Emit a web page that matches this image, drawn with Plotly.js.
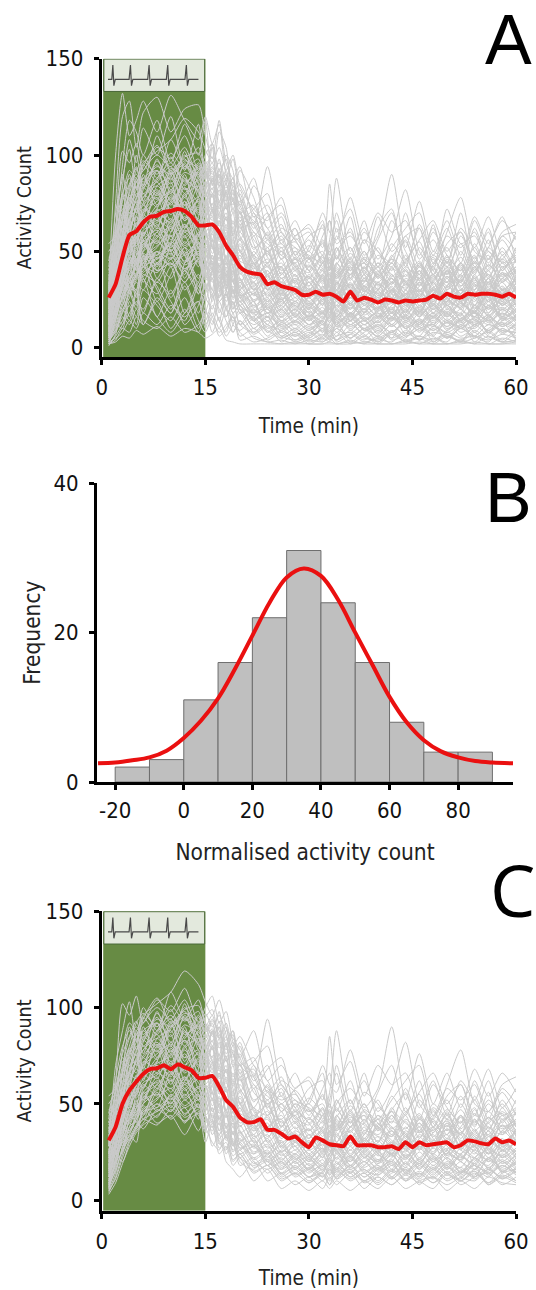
<!DOCTYPE html>
<html><head><meta charset="utf-8">
<script src="https://cdn.plot.ly/plotly-3.0.1.min.js"></script>
<style>html,body{margin:0;padding:0;background:#fff}</style></head>
<body><div id="chart" style="width:536px;height:1290px"></div>
<script>
const minutes = [1,2,3,4,5,6,7,8,9,10,11,12,13,14,15,16,17,18,19,20,21,22,23,24,25,26,27,28,29,30,31,32,33,34,35,36,37,38,39,40,41,42,43,44,45,46,47,48,49,50,51,52,53,54,55,56,57,58,59,60];
const meanA = [26,33,47,58.5,60.5,65,68,68.5,70.5,71,72,71,68,63.5,63.5,64,60,53,48,42,39.5,38.5,38,33,34,32,31,30,27.5,27.5,29,27.5,28,26.5,24,29,24.5,26,25,23.5,25,24.5,23.5,24.5,24,24.5,25,27,25.5,28,26.5,26,28,27.5,28,28,27.5,26.5,28,26];
const meanC = [31,38,50,57,61.5,65.5,68,68.5,70,68,70.5,69,67.5,63.5,63.5,64.5,59,52,48.5,43,40.5,40.5,42,36.5,36.5,34.5,32,33,30,27.5,32.5,31,29,28.5,28,33,28.5,28.5,28.5,27.5,27.5,28,26.5,30,27.5,30,28.5,29,29.5,30,27.5,28.5,31,30.5,29.5,29,32,30,31,29];
const runTimes = [1,2,3,4,5,6,8,10,12,14,15,16,17,18,19,20,22,24,26,28,30,32,33,34,36,38,40,42,44,46,48,50,52,54,56,58,60];
const sharedRuns = [
[22,48,78,92,88,96,102,108,119,112,103,96,104,90,76,70,64,94,60,52,48,44,56,88,50,62,46,58,82,50,42,60,78,50,46,60,64],
[18,60,102,96,106,92,104,98,110,92,100,106,92,98,82,74,88,62,70,58,64,52,85,60,72,48,58,90,52,76,50,66,48,68,54,66,56],
[30,70,88,103,82,100,88,108,94,104,92,86,98,80,88,66,72,80,54,66,50,70,60,56,78,54,70,60,66,48,62,44,62,52,68,48,58],
[12,34,66,90,78,95,86,99,84,96,90,96,84,90,72,80,58,68,74,48,58,62,48,70,46,66,42,52,62,70,44,58,52,60,42,58,50],
[35,58,72,64,88,76,98,80,102,78,86,78,90,72,78,56,70,48,62,56,44,58,66,46,62,40,56,70,46,56,66,50,60,44,62,40,52],
[8,26,52,74,84,68,92,76,96,82,74,88,70,82,60,68,48,60,46,58,62,42,52,66,40,56,50,40,58,42,60,48,40,62,46,56,44],
[25,44,60,78,70,90,74,92,72,88,78,68,82,62,70,50,60,44,56,40,52,66,40,50,58,46,38,54,44,62,38,54,60,40,52,44,48],
[14,38,50,70,66,82,92,70,88,70,84,72,64,74,52,64,42,56,38,50,46,54,44,38,52,34,48,42,56,36,50,42,34,54,40,50,38],
[40,52,48,66,76,62,84,88,74,92,68,80,60,68,58,46,58,36,50,42,36,48,34,52,38,50,36,44,32,52,40,34,50,38,56,34,46],
[6,20,42,58,72,64,80,66,90,64,76,60,74,56,62,44,36,52,34,46,40,30,42,36,46,30,44,34,48,32,46,36,44,30,46,38,42],
[20,30,56,50,62,74,66,82,70,84,62,72,56,64,48,54,40,32,46,30,42,36,28,44,32,42,30,48,34,44,28,46,32,42,30,48,34],
[28,46,40,62,54,70,78,60,80,58,70,52,66,46,56,38,48,30,38,44,28,38,46,30,42,26,40,30,44,26,42,30,38,48,28,36,40],
[10,18,34,46,58,52,72,86,62,74,54,64,48,58,42,50,34,44,28,36,32,44,30,26,38,44,24,38,28,42,32,24,44,28,40,26,36],
[16,36,44,40,56,66,58,72,54,68,82,56,70,44,52,36,28,38,42,26,34,24,36,40,24,34,42,24,36,30,24,40,26,36,24,42,30],
[5,14,28,38,48,60,54,76,58,66,50,60,42,52,34,42,30,24,34,28,20,32,26,22,34,22,30,36,22,32,38,22,30,24,36,22,32],
[32,42,36,54,46,58,68,56,70,52,60,46,54,38,46,30,38,22,30,20,30,22,34,26,20,32,24,20,34,20,28,34,20,32,22,30,24],
[4,12,24,34,42,50,64,48,62,72,46,56,36,46,28,36,24,32,20,30,24,18,24,30,18,26,20,30,18,28,20,26,34,18,28,20,26],
[24,40,34,46,40,54,48,66,52,58,44,38,50,32,40,26,32,18,26,22,16,26,20,16,28,18,26,16,26,18,30,16,24,28,16,26,18],
[12,22,30,42,52,44,60,50,64,48,56,42,34,44,30,22,28,20,16,24,18,14,22,26,14,22,16,24,14,22,16,26,14,22,26,14,22],
[7,16,26,32,38,46,52,62,44,54,36,48,30,26,36,20,16,24,14,20,12,18,14,20,12,18,24,12,20,12,22,14,20,12,22,16,20],
[38,34,46,44,50,42,56,46,58,42,52,34,40,24,30,18,22,14,20,12,16,10,16,12,18,10,16,20,10,18,12,18,10,16,12,20,14],
[15,28,38,36,44,56,46,54,40,50,38,30,26,34,20,24,14,18,10,14,9,14,8,16,10,14,8,14,16,8,16,10,14,18,8,14,16],
[9,24,20,30,36,40,50,42,48,36,44,28,34,20,16,12,20,10,14,8,12,6,12,8,14,6,12,8,14,10,6,14,8,12,14,8,12],
[28,32,26,34,30,48,40,44,34,46,30,40,24,28,18,22,10,16,6,10,5,10,6,10,5,10,6,12,6,10,12,5,10,6,12,9,8]
];
const midRuns = [
[33,52,70,84,90,86,94,90,97,93,88,94,86,83,88,72,66,58,52,55,46,50,42,47,38,44,37,46,40,35,44,38,47,36,43,37,42],
[24,46,66,79,75,88,92,85,94,89,92,85,90,76,82,74,60,54,48,44,50,41,47,36,43,39,34,41,37,45,33,40,35,44,38,34,40],
[42,60,64,77,86,80,88,96,86,91,84,89,79,85,70,76,56,50,54,43,39,47,37,44,35,46,38,33,42,36,47,34,43,32,41,45,36],
[17,38,58,72,82,88,80,93,88,82,90,80,86,72,76,62,65,47,42,50,36,44,50,33,47,32,42,36,31,43,35,45,30,41,34,44,33],
[50,56,74,70,78,84,95,82,91,86,78,87,72,81,64,70,52,57,40,46,34,38,33,42,31,40,30,44,34,29,41,32,44,33,30,39,34],
[10,30,55,68,80,74,87,94,82,87,81,74,84,66,72,58,48,44,50,37,43,33,39,30,41,29,38,31,27,40,30,37,28,42,31,27,37],
[28,50,62,60,74,80,73,89,95,80,76,83,68,75,59,66,44,49,36,41,30,37,29,39,28,36,33,26,38,29,35,41,27,35,29,39,28],
[36,44,52,66,72,78,84,77,85,90,71,79,63,70,54,60,47,38,44,33,37,28,36,27,38,30,25,36,28,33,25,37,31,26,36,28,33],
[20,34,48,63,69,75,82,72,79,84,74,66,76,58,66,50,41,46,32,38,27,35,25,34,26,35,28,24,33,26,37,28,24,34,27,23,32],
[13,27,45,58,64,70,76,81,74,78,68,73,61,67,49,56,38,42,30,34,26,31,36,24,33,25,31,23,30,38,24,32,26,22,33,26,30],
[44,48,58,62,68,65,74,80,70,76,64,70,57,61,52,45,42,33,39,28,34,25,30,35,23,32,26,30,22,29,34,23,30,25,21,31,25],
[8,22,40,55,62,67,71,75,83,69,72,62,66,53,47,51,36,40,27,32,24,30,23,28,33,22,29,24,28,21,30,25,21,29,24,32,22],
[26,36,44,52,60,72,68,78,66,73,60,65,50,57,43,48,33,37,29,24,31,22,28,21,30,24,20,29,23,27,20,29,23,19,28,22,27],
[31,41,50,48,57,63,70,65,76,64,68,55,61,47,52,40,44,30,25,31,21,27,20,29,22,27,20,25,19,28,23,18,27,22,18,26,20],
[11,19,36,49,55,61,65,71,60,67,58,62,45,52,38,43,30,34,23,28,20,25,30,19,26,20,25,18,24,19,27,21,17,26,20,24,19],
[47,45,42,56,53,59,66,62,68,61,55,59,48,43,46,35,39,27,31,21,26,19,24,28,18,25,19,23,17,25,18,24,20,16,25,19,23],
[6,17,33,44,51,55,60,67,57,63,52,56,42,47,34,39,27,31,21,26,18,24,18,22,17,24,18,15,23,17,22,16,23,18,15,23,17],
[22,29,38,42,48,53,62,58,64,56,60,49,53,38,42,31,34,24,28,19,23,17,22,16,23,17,21,15,22,16,24,18,14,22,17,21,16],
[15,24,31,41,46,50,57,63,53,59,47,52,39,44,30,35,25,29,18,23,16,21,15,24,16,20,15,21,14,20,15,22,16,13,21,15,19],
[34,38,35,47,43,52,55,50,60,52,55,43,47,34,38,27,31,21,25,16,22,15,20,14,21,16,13,20,15,19,13,20,15,21,14,18,14],
[9,15,27,36,42,47,53,58,49,55,44,48,36,40,28,32,22,26,16,20,14,19,13,18,23,14,18,12,19,13,20,14,11,19,13,18,13],
[19,25,30,33,39,44,50,46,55,48,51,40,43,31,35,24,28,18,22,14,19,12,17,13,18,12,17,11,17,12,18,13,17,11,16,12,17],
[27,30,32,40,37,46,48,53,45,50,41,45,32,36,26,29,19,23,13,18,12,16,11,17,12,16,10,16,11,15,11,17,12,10,16,11,15],
[5,11,22,31,37,42,46,51,43,47,37,41,29,33,23,26,17,20,12,16,10,15,20,11,15,10,14,19,10,14,9,15,10,14,9,15,10],
[54,58,66,74,70,83,77,91,80,95,85,92,75,88,84,78,64,52,60,48,42,55,45,52,40,50,36,47,55,38,48,42,54,39,50,42,47],
[37,55,76,85,93,83,97,87,100,90,95,99,84,92,80,85,70,62,50,57,47,40,50,39,49,41,52,37,45,55,38,47,40,52,37,46,38],
[23,42,68,80,92,97,90,101,93,98,87,93,88,78,86,70,74,56,64,46,53,45,38,48,36,47,40,33,46,35,43,52,37,45,36,52,39],
[16,32,60,76,86,92,100,94,104,88,97,90,96,86,74,82,62,70,46,52,40,48,35,43,52,36,44,38,30,42,36,44,34,47,33,41,45],
[45,63,80,88,83,94,105,92,99,101,91,82,93,74,80,64,68,50,58,42,47,35,44,37,45,31,39,46,33,40,31,42,36,30,43,35,41],
[29,37,54,67,77,85,79,90,98,85,79,88,74,80,62,71,51,59,38,47,32,41,31,37,44,29,37,29,41,27,38,31,41,28,38,30,36],
[12,25,47,61,73,78,86,74,87,81,73,80,67,73,56,63,43,50,33,40,29,36,27,41,29,38,27,34,26,36,27,39,28,37,26,36,29],
[39,47,56,65,63,71,81,69,83,75,69,75,60,68,50,57,46,35,41,30,37,26,33,25,36,27,33,28,25,34,29,24,35,27,34,25,31],
[7,21,39,53,59,69,63,79,67,77,65,71,55,62,45,53,37,43,28,35,23,29,24,33,23,31,23,28,35,22,31,26,21,33,24,29,24],
[18,28,43,51,65,58,72,64,78,66,63,68,51,58,41,48,32,38,25,30,22,27,22,30,20,28,21,26,21,30,21,27,22,28,20,28,22],
[3,9,19,28,35,39,44,49,41,45,35,38,27,30,21,24,15,18,11,14,9,13,8,12,16,9,12,8,13,9,12,8,12,15,8,12,9],
[41,36,41,50,44,56,61,54,63,54,59,46,50,37,41,29,24,28,19,24,16,23,17,25,17,23,16,22,27,16,23,17,24,16,22,17,24],
[21,33,28,43,49,45,58,52,61,55,47,53,41,35,40,27,29,20,24,17,21,16,21,15,22,15,19,24,15,21,16,22,14,20,27,15,20],
[30,24,37,35,45,49,43,55,48,52,43,36,44,33,29,34,21,25,17,22,15,18,13,19,14,20,13,18,13,19,14,19,13,18,14,20,14],
[14,20,25,38,41,37,47,43,52,44,40,44,34,38,25,30,20,16,20,13,17,12,16,11,18,12,16,11,16,11,17,11,15,12,17,11,16],
[25,27,34,31,38,42,39,47,41,49,38,42,31,27,32,22,18,21,14,17,12,14,10,15,11,14,9,15,10,14,9,13,10,15,9,13,10]
];
const onlyARuns = [
[28,32,26,34,30,48,40,44,34,46,30,40,24,28,18,22,10,16,6,10,5,10,6,10,5,10,6,12,6,10,12,5,10,6,12,9,8],
[3,10,18,26,34,30,44,36,52,32,40,26,32,22,14,18,8,12,5,8,4,7,4,6,8,4,9,5,8,4,8,6,4,9,5,10,6],
[19,26,22,36,28,38,34,46,30,38,32,36,20,16,24,12,16,8,12,6,9,4,8,4,9,5,4,8,4,6,4,8,5,6,4,7,5],
[30,100,132,110,118,128,112,131,118,108,120,106,116,92,100,84,72,66,78,56,60,48,66,54,60,44,68,50,58,62,40,72,54,58,44,58,60],
[20,75,120,128,104,122,130,112,124,126,110,98,118,96,88,94,68,74,56,62,46,64,40,58,44,60,50,44,70,46,56,44,70,42,52,68,44],
[12,55,95,118,112,100,118,96,116,100,118,84,112,104,76,92,78,58,68,48,56,44,54,46,68,38,62,72,42,64,48,62,44,66,50,46,60],
[8,40,84,108,96,114,100,120,92,116,88,106,88,100,92,60,84,70,48,62,40,56,48,62,36,56,42,66,50,38,64,38,58,46,60,40,50],
[2,6,12,18,24,20,34,28,40,30,26,20,34,16,24,12,8,14,6,4,8,3,6,4,7,3,5,8,3,6,3,7,3,5,8,3,4],
[3,5,8,14,10,18,12,22,16,24,12,18,10,20,8,14,5,3,2,2,2,2,2,2,3,2,2,2,3,2,2,2,3,2,2,2,3],
[2,3,6,5,9,7,11,6,10,8,5,7,10,4,3,2,2,2,2,3,2,2,3,2,2,3,2,2,2,3,2,2,2,3,2,2,2],
[4,8,16,12,20,14,10,16,8,12,18,14,8,12,16,6,10,4,8,3,6,9,4,12,5,10,3,8,12,4,10,5,12,6,3,10,5],
[6,12,10,24,16,30,22,14,26,10,20,8,16,6,12,20,14,22,8,14,20,8,24,12,28,14,20,32,16,26,12,24,30,14,24,16,26],
[10,20,38,28,46,36,28,42,18,34,14,26,42,30,20,34,24,12,28,36,14,26,16,32,14,30,22,14,30,18,34,20,28,36,18,30,14],
[5,30,56,74,62,48,30,18,44,58,70,52,46,60,42,30,44,26,36,24,34,22,38,28,32,18,34,26,20,36,22,40,24,18,34,24,38],
[14,50,80,64,52,68,40,58,36,52,24,40,60,36,50,28,18,34,22,32,26,38,18,34,26,38,16,30,24,40,18,32,42,22,36,16,28],
[3,18,44,30,20,36,16,30,12,22,34,16,28,42,26,40,30,40,26,18,36,28,32,20,30,24,34,18,40,24,30,22,18,38,26,34,22],
[18,35,28,16,30,12,24,10,20,8,18,28,14,30,48,56,44,30,42,28,38,30,24,34,16,28,38,28,18,34,26,30,38,20,32,28,40],
[26,62,90,72,100,84,110,90,78,94,82,104,76,86,98,78,54,42,52,34,46,34,42,52,30,42,32,36,26,44,34,48,32,40,48,30,36],
[9,28,58,82,94,76,62,84,66,78,96,70,92,78,58,70,38,50,36,42,30,40,32,24,42,32,28,34,40,30,38,26,36,44,26,38,30],
[4,15,36,56,40,60,36,54,76,46,62,40,58,34,46,32,50,38,24,38,22,32,26,38,22,36,26,42,24,34,22,36,24,30,38,24,34],
[16,24,46,38,26,44,24,38,50,28,42,54,32,48,36,24,34,16,30,16,26,18,28,16,26,20,30,16,28,16,34,22,26,16,30,22,28],
[6,22,48,34,58,42,70,50,38,60,46,30,52,40,34,26,18,12,9,6,11,5,9,4,12,7,3,9,5,13,6,3,11,5,9,4,10],
[2,14,32,48,36,54,42,64,48,34,52,44,26,38,22,28,14,9,5,8,3,6,10,3,7,12,5,3,9,4,11,7,3,12,6,3,8],
[11,36,62,50,68,56,44,60,74,52,40,56,38,30,40,20,12,16,11,4,7,12,5,14,3,8,11,4,7,15,3,9,14,3,10,13,4],
[1,7,20,14,28,18,36,24,14,32,20,12,24,14,8,14,7,11,3,7,2,5,3,8,2,6,2,7,3,5,2,6,3,8,2,5,3],
[7,16,12,30,22,42,32,20,34,18,28,36,18,28,12,9,15,6,13,9,15,8,13,18,9,15,7,16,10,6,16,11,18,8,15,7,13],
[2,4,10,8,16,12,26,18,32,14,8,16,6,10,16,8,3,5,9,12,6,14,10,6,17,9,14,5,17,11,7,13,6,11,17,8,12],
[13,44,70,58,44,34,50,26,40,28,44,24,36,20,30,18,24,8,16,10,17,13,7,10,14,19,11,18,7,12,18,9,15,19,7,16,11],
[5,9,14,22,12,26,16,8,18,24,10,22,14,8,18,4,6,3,4,2,4,3,5,2,4,2,6,2,4,2,5,2,4,2,6,3,4]
];
const binCenters = [-15,-5,5,15,25,35,45,55,65,75,85];
const binCounts = [2,3,11,16,22,31,24,16,8,4,4];
const fitX = [-25,-20,-15,-10,-5,0,5,10,15,20,25,30,35,40,45,50,55,60,65,70,75,80,85,90,96];
const fitY = [2.5,2.6,2.9,3.3,4.2,5.9,8.2,11.2,15.2,19.6,24,27.4,28.6,27.6,24.4,20,15.7,11.4,8,5.6,4.1,3.3,2.8,2.6,2.5];
const ecgTimes = [0.9,1.45,1.6,1.75,1.95,3.95,4.15,4.3,4.5,6.65,6.85,7,7.2,9.35,9.55,9.7,9.9,12.05,12.25,12.4,12.6,14];
const ecgLevels = [139.3,139.3,146.7,136,139.3,139.3,146.7,136,139.3,139.3,146.7,136,139.3,139.3,146.7,136,139.3,139.3,146.7,136,139.3,139.3];
const xTicksTime = [0,15,30,45,60];
const yTicksCount = [0,50,100,150];
const xTicksNorm = [-20,0,20,40,60,80];
const xLabelsNorm = ['-20','0','20','40','60','80'];
const yTicksFreq = [0,20,40];

const W = 536, H = 1290;
const FONT = '"DejaVu Sans Condensed","DejaVu Sans",sans-serif';
const GRAY = '#cacaca', RED = '#ea1010';
const dx = (a,b) => [a/W, b/W];
const dy = (t,b) => [1-b/H, 1-t/H];
function axis(extra){
  return Object.assign({showgrid:false, zeroline:false, showline:true, linecolor:'#000', linewidth:3,
    ticks:'outside', ticklen:5, tickwidth:3, tickcolor:'#000', mirror:false, fixedrange:true,
    tickfont:{family:FONT,size:22,color:'#111'}, automargin:false}, extra);
}
const traces = [];
function runTrace(r, xa, ya){ return {x:runTimes, y:r, xaxis:xa, yaxis:ya, mode:'lines', type:'scatter',
  line:{color:GRAY, width:1, shape:'spline', smoothing:0.7}, hoverinfo:'skip', showlegend:false}; }
onlyARuns.concat(sharedRuns, midRuns).forEach(r => traces.push(runTrace(r,'x','y')));
traces.push({x:minutes,y:meanA,xaxis:'x',yaxis:'y',mode:'lines',line:{color:RED,width:4,shape:'spline',smoothing:0.5},showlegend:false});
traces.push({x:binCenters,y:binCounts,xaxis:'x2',yaxis:'y2',type:'bar',width:10,marker:{color:'#bfbfbf',line:{color:'#6e6e6e',width:1}},showlegend:false});
traces.push({x:fitX,y:fitY,xaxis:'x2',yaxis:'y2',mode:'lines',line:{color:RED,width:4,shape:'spline'},showlegend:false});
sharedRuns.concat(midRuns).forEach(r => traces.push(runTrace(r,'x3','y3')));
traces.push({x:minutes,y:meanC,xaxis:'x3',yaxis:'y3',mode:'lines',line:{color:RED,width:4,shape:'spline',smoothing:0.5},showlegend:false});
[['x','y'],['x3','y3']].forEach(([a,b]) => traces.push({x:ecgTimes,y:ecgLevels,xaxis:a,yaxis:b,mode:'lines',line:{color:'#4a4a4a',width:1.2},hoverinfo:'skip',showlegend:false}));

function panelShapes(xr,yr,bottom){
  return [
    {type:'rect',xref:xr,yref:yr,x0:0.2,x1:15,y0:bottom,y1:150,fillcolor:'#678b44',line:{width:0},layer:'below'},
    {type:'rect',xref:xr,yref:yr,x0:0.3,x1:14.9,y0:133,y1:149.8,fillcolor:'#e3e9dd',line:{color:'#4a6838',width:1},layer:'below'}
  ];
}
const countTitle = {family:FONT,size:19.5,color:'#222'};
const timeTitle = {family:FONT,size:20.5,color:'#222'};
const largeTitle = {family:FONT,size:22.5,color:'#222'};
const letters = [['A',508,39.5,'"Liberation Sans",sans-serif',70],['B',508,498,'"Liberation Sans",sans-serif',70],['C',512,889,'"Open Sans",sans-serif',72]];
const layout = {
  width:W, height:H, margin:{l:0,r:0,t:0,b:0}, paper_bgcolor:'#fff', plot_bgcolor:'rgba(0,0,0,0)', showlegend:false, bargap:0,
  xaxis: axis({domain:dx(101.8,516),range:[0,60],anchor:'y',tickvals:xTicksTime,ticklabelstandoff:4,title:{text:'Time (min)',font:timeTitle,standoff:20}}),
  yaxis: axis({domain:dy(58.7,357),range:[-4.8,150],anchor:'x',tickvals:yTicksCount,ticklabelstandoff:6,title:{text:'Activity Count',font:countTitle,standoff:9}}),
  xaxis2: axis({domain:dx(97,513),range:[-25.3,96],anchor:'y2',tickmode:'array',tickvals:xTicksNorm,ticktext:xLabelsNorm,ticklabelstandoff:2,title:{text:'Normalised activity count',font:largeTitle,standoff:22}}),
  yaxis2: axis({domain:dy(483.3,782),range:[0,40],anchor:'x2',tickvals:yTicksFreq,ticklabelstandoff:6,title:{text:'Frequency',font:largeTitle,standoff:7}}),
  xaxis3: axis({domain:dx(101.8,516),range:[0,60],anchor:'y3',tickvals:xTicksTime,ticklabelstandoff:4,title:{text:'Time (min)',font:timeTitle,standoff:20}}),
  yaxis3: axis({domain:dy(911.3,1210.7),range:[-5.5,150],anchor:'x3',tickvals:yTicksCount,ticklabelstandoff:6,title:{text:'Activity Count',font:countTitle,standoff:9}}),
  shapes: panelShapes('x','y',-4.8).concat(panelShapes('x3','y3',-5.5)),
  annotations: letters.map(([t,x,y,f,s]) => ({text:t,xref:'paper',yref:'paper',x:x/W,y:1-y/H,xanchor:'center',yanchor:'middle',showarrow:false,font:{family:f,size:s,color:'#000'}}))
};
Plotly.newPlot('chart',traces,layout,{displayModeBar:false,staticPlot:true});
</script></body></html>
